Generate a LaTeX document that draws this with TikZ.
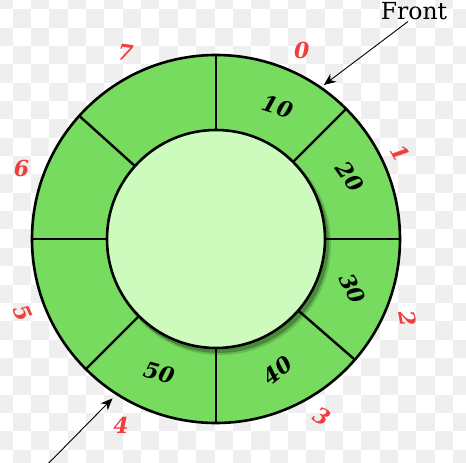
\documentclass[tikz,border=0pt]{standalone}
\usepackage{fontspec}
\setmainfont{DejaVu Serif}
\usepackage{xcolor}
\usepackage{tikz}
\usetikzlibrary{arrows.meta}
\definecolor{CQRing}{HTML}{76DB5E}
\definecolor{CQCore}{HTML}{CCFBBD}
\definecolor{CQIndex}{HTML}{F23D3D}
\definecolor{CQCheck}{HTML}{EFEFEF}

\begin{document}
\begin{tikzpicture}[x=1pt,y=1pt,
  slotval/.style={inner sep=0pt,font=\fontsize{22}{22}\selectfont\bfseries\itshape},
  slotidx/.style={inner sep=0pt,text=CQIndex,font=\fontsize{22}{22}\selectfont\bfseries\itshape},
  pointer/.style={line width=.9pt,-{Stealth[length=12pt,width=10pt]}}]
\path[use as bounding box] (-216,-224) rectangle (250,239);
\fill[white] (-216,-224) rectangle (250,239);
% checker background
\begin{scope}
\clip (-216,-224) rectangle (250,239);
\foreach \c in {-1,...,25}
  \foreach \r in {-1,...,25} {
    \pgfmathtruncatemacro\s{mod(\c+\r+2,2)}
    \ifnum\s=0
      \fill[CQCheck] ({12.7+18.35*\c-216},{239-9.3-18.35*\r}) rectangle ++(18.35,-18.35);
    \fi
  }
\end{scope}
% ring and slots
\fill[CQRing,draw=black,line width=2.6pt] (0,0) circle (184);
\foreach \a in {90,45,0,-41,-90,225,180,138}
  \draw[line width=2.4pt] (0,0) -- (\a:184);
\fill[black,opacity=.15] (4,-5) circle (111);
\fill[black,opacity=.25] (3,-4) circle (110);
\fill[CQCore,draw=black,line width=2.6pt] (0,0) circle (109);
% values
\node[slotval,rotate=-18] (v0) at (65:146) {10};
\node[slotval,rotate=-55] (v1) at (25:148) {20};
\node[slotval,rotate=-65] (v2) at (-20:145) {30};
\node[slotval,rotate=38] (v3) at (-65:145) {40};
\node[slotval,rotate=-15] (v4) at (247:145) {50};
% indices
\node[slotidx] (i0) at (65.5:207) {0};
\node[slotidx,rotate=-60] (i1) at (25:204) {1};
\node[slotidx,rotate=-80] (i2) at (-22.5:208) {2};
\node[slotidx,rotate=-30] (i3) at (-59:207) {3};
\node[slotidx] (i4) at (243:209) {4};
\node[slotidx,rotate=-65] (i5) at (201:207) {5};
\node[slotidx] (i6) at (160:207) {6};
\node[slotidx,rotate=-8] (i7) at (116:207) {7};
% pointers
\node[anchor=base,inner sep=1pt,font=\fontsize{23.5}{23.5}\selectfont] (front) at (198,219) {Front};
\coordinate (fronttip) at (55:188);
\draw[pointer] ([xshift=-6pt]front.south) -- (fronttip);
\coordinate (reartail) at (-175,-232);
\coordinate (reartip) at (237:190);
\draw[pointer] (reartail) -- (reartip);
\end{tikzpicture}
\end{document}
